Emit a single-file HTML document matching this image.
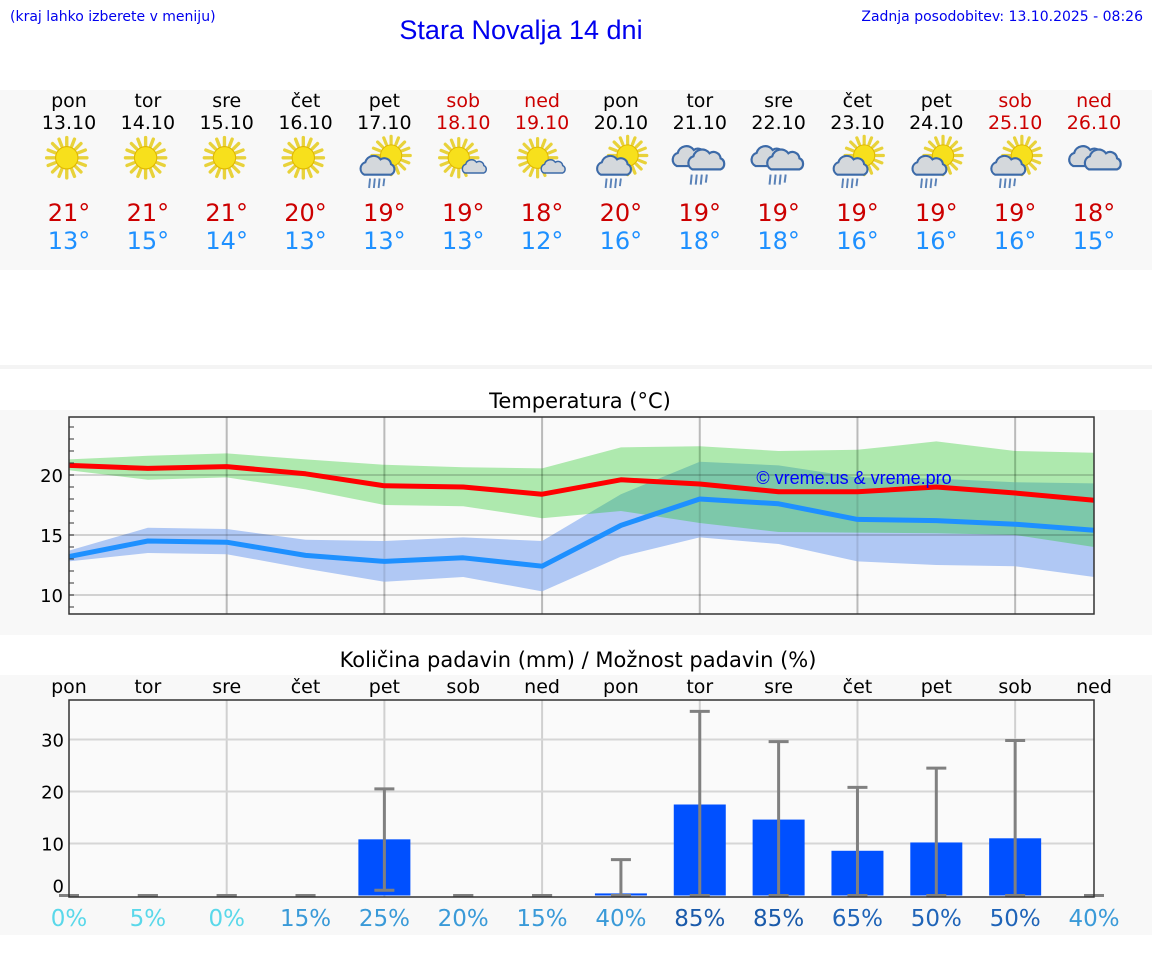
<!DOCTYPE html>
<html><head><meta charset="utf-8"><style>
body{margin:0;background:#fff;width:1152px;height:975px;overflow:hidden}
svg{display:block}
</style></head><body>
<svg id="s" width="1152" height="975" xmlns="http://www.w3.org/2000/svg">
<defs>
<g id="sun"><g stroke="#e8d23a" stroke-width="3" stroke-linecap="round">
<line x1="0" y1="-18" x2="0" y2="-11"/><line x1="0" y1="18" x2="0" y2="11"/><line x1="-18" y1="0" x2="-11" y2="0"/><line x1="18" y1="0" x2="11" y2="0"/>
<line x1="-12.7" y1="-12.7" x2="-8" y2="-8"/><line x1="12.7" y1="12.7" x2="8" y2="8"/><line x1="-12.7" y1="12.7" x2="-8" y2="8"/><line x1="12.7" y1="-12.7" x2="8" y2="-8"/>
<line x1="-6.9" y1="-16.6" x2="-4.5" y2="-10.5"/><line x1="6.9" y1="16.6" x2="4.5" y2="10.5"/><line x1="16.6" y1="-6.9" x2="10.5" y2="-4.5"/><line x1="-16.6" y1="6.9" x2="-10.5" y2="4.5"/>
<line x1="6.9" y1="-16.6" x2="4.5" y2="-10.5"/><line x1="-6.9" y1="16.6" x2="-4.5" y2="10.5"/><line x1="16.6" y1="6.9" x2="10.5" y2="4.5"/><line x1="-16.6" y1="-6.9" x2="-10.5" y2="-4.5"/></g>
<circle r="10" fill="#f7e01c" stroke="#e0b800" stroke-width="1"/></g>
<path id="cloud" d="M-14,6 a7,7 0 0 1 1,-13 a9,9 0 0 1 16,-3 a7,7 0 0 1 11,5 a6,6 0 0 1 0,11 z" fill="#d4d8dc" stroke="#3c6aa8" stroke-width="2.2"/>
<g id="rain" stroke="#5a82b8" stroke-width="2"><line x1="-8" y1="10" x2="-9" y2="20"/><line x1="-3" y1="10" x2="-4" y2="20"/><line x1="2" y1="10" x2="1" y2="20"/><line x1="7" y1="10" x2="6" y2="18"/></g>
</defs>
<rect x="0" y="90" width="1152" height="180" fill="#f8f8f8"/>
<rect x="0" y="365" width="1152" height="4" fill="#f4f4f4"/>
<rect x="0" y="410" width="1152" height="225" fill="#f8f8f8"/>
<rect x="0" y="675" width="1152" height="260" fill="#f8f8f8"/>
<text x="10" y="21" font-family="DejaVu Sans, sans-serif" font-size="14" fill="#0000ee">(kraj lahko izberete v meniju)</text>
<text x="521" y="39" text-anchor="middle" font-family="Liberation Sans, sans-serif" font-size="27" fill="#0000ee">Stara Novalja 14 dni</text>
<text x="1143" y="21" text-anchor="end" font-family="DejaVu Sans, sans-serif" font-size="14" fill="#0000ee">Zadnja posodobitev: 13.10.2025 - 08:26</text>
<text x="580" y="408" text-anchor="middle" font-family="DejaVu Sans, sans-serif" font-size="21" fill="#000">Temperatura (°C)</text>
<text x="578" y="667" text-anchor="middle" font-family="DejaVu Sans, sans-serif" font-size="21" fill="#000">Količina padavin (mm) / Možnost padavin (%)</text>
<g id="topg"></g><g id="temp"></g><g id="prec"></g>
</svg>
<script>
const days=["pon","tor","sre","čet","pet","sob","ned","pon","tor","sre","čet","pet","sob","ned"];
const dates=["13.10","14.10","15.10","16.10","17.10","18.10","19.10","20.10","21.10","22.10","23.10","24.10","25.10","26.10"];
const icons=["sun","sun","sun","sun","sunrain","suncloud","suncloud","sunrain","cloudrain","cloudrain","sunrain","sunrain","sunrain","cloud"];
const maxT=[21,21,21,20,19,19,18,20,19,19,19,19,19,18];
const minT=[13,15,14,13,13,13,12,16,18,18,16,16,16,15];
const tMax=[20.8,20.55,20.7,20.1,19.1,19.0,18.4,19.6,19.25,18.6,18.6,19.0,18.5,17.9];
const tMaxHi=[21.3,21.6,21.8,21.3,20.85,20.65,20.55,22.3,22.4,22.0,22.1,22.8,22.0,21.85];
const tMaxLo=[20.4,19.6,19.8,18.8,17.5,17.4,16.4,17.0,16.0,15.25,15.2,15.15,15.0,14.0];
const tMin=[13.2,14.5,14.4,13.3,12.8,13.1,12.4,15.8,18.0,17.6,16.3,16.2,15.9,15.4];
const tMinHi=[13.7,15.6,15.5,14.6,14.5,14.8,14.5,18.4,21.1,20.8,19.8,19.7,19.4,19.3];
const tMinLo=[12.8,13.5,13.4,12.2,11.1,11.5,10.3,13.2,14.8,14.25,12.8,12.5,12.4,11.5];
const tTicks=[10,15,20];
const rain=[0,0,0,0,10.8,0,0,0.4,17.5,14.6,8.6,10.2,11.0,0];
const rainHi=[0,0,0,0,20.5,0,0,6.9,35.4,29.6,20.8,24.5,29.8,0];
const rainLo=[0,0,0,0,1.0,0,0,0,0,0,0,0,0,0];
const rainProb=[0,5,0,15,25,20,15,40,85,85,65,50,50,40];
const rTicks=[0,10,20,30];
const NS="http://www.w3.org/2000/svg";
function mk(p,tag,a,txt){const e=document.createElementNS(NS,tag);for(const k in a)e.setAttribute(k,a[k]);if(txt!==undefined)e.textContent=txt;p.appendChild(e);return e;}
const X0=69,X1=1094;
const xd=i=>X0+i*(X1-X0)/13;
const weekendIdx=[5,6,12,13];
const topG=document.getElementById('topg');
days.forEach((d,i)=>{
 const x=xd(i),we=weekendIdx.includes(i)?"#cc0000":"#000";
 let t=mk(topG,'text',{x:x,y:107,'text-anchor':'middle','font-family':'DejaVu Sans, sans-serif','font-size':19,fill:we},d);
 
 
 t=mk(topG,'text',{x:x,y:129,'text-anchor':'middle','font-family':'DejaVu Sans, sans-serif','font-size':19,fill:we},dates[i]);
 
 
 const g=mk(topG,'g',{transform:`translate(${x},160) scale(1.12)`});
 
 
 const ic=icons[i];
 if(ic==="sun")mk(g,'use',{href:'#sun',transform:'translate(-2,-2)'});
 if(ic==="sunrain"){mk(g,'use',{href:'#sun',transform:'translate(6,-4) scale(0.95)'});mk(g,'use',{href:'#cloud',transform:'translate(-6,8) scale(0.85)'});mk(g,'use',{href:'#rain',transform:'translate(-6,8) scale(0.85)'});}
 if(ic==="suncloud"){mk(g,'use',{href:'#sun',transform:'translate(-4,-2) scale(0.95)'});mk(g,'use',{href:'#cloud',transform:'translate(10,8) scale(0.6)'});}
 if(ic==="cloudrain"){mk(g,'use',{href:'#cloud',transform:'translate(-8,0) scale(0.9)'});mk(g,'use',{href:'#cloud',transform:'translate(6,3) scale(0.9)'});mk(g,'use',{href:'#rain',transform:'translate(0,4) scale(0.9)'});}
 if(ic==="cloud"){mk(g,'use',{href:'#cloud',transform:'translate(-6,0) scale(0.9)'});mk(g,'use',{href:'#cloud',transform:'translate(8,3) scale(0.9)'});}
 t=mk(topG,'text',{x:x,y:221,'text-anchor':'middle','font-family':'DejaVu Sans, sans-serif','font-size':24,fill:'#cc0000'},maxT[i]+"°");
 
 
 t=mk(topG,'text',{x:x,y:249,'text-anchor':'middle','font-family':'DejaVu Sans, sans-serif','font-size':24,fill:'#1e90ff'},minT[i]+"°");
 
 
});
const tg=document.getElementById('temp');
const TY0=417,TY1=614;
const ty=v=>475-(v-20)*12;
mk(tg,'rect',{x:X0,y:TY0,width:X1-X0,height:TY1-TY0,fill:'#fafafa'});
[2,4,6,8,10,12].forEach(i=>mk(tg,'line',{x1:xd(i),x2:xd(i),y1:TY0,y2:TY1,stroke:'#d0d0d0','stroke-width':2}));
function band(hi,lo,fill,name){let p=hi.map((v,i)=>`${xd(i)},${ty(v)}`);for(let i=lo.length-1;i>=0;i--)p.push(`${xd(i)},${ty(lo[i])}`);const e=mk(tg,'polygon',{points:p.join(' '),fill:fill});
 
 }
band(tMinHi,tMinLo,'#b0c8f4','min-temp-band');
band(tMaxHi,tMaxLo,'rgba(20,200,20,0.33)','max-temp-band');
tTicks.forEach(v=>mk(tg,'line',{x1:X0,x2:X1,y1:ty(v),y2:ty(v),stroke:'rgba(0,0,0,0.16)','stroke-width':2}));
[2,4,6,8,10,12].forEach(i=>mk(tg,'line',{x1:xd(i),x2:xd(i),y1:TY0,y2:TY1,stroke:'rgba(0,0,0,0.1)','stroke-width':2}));
function line(a,c,name){const e=mk(tg,'polyline',{points:a.map((v,i)=>`${xd(i)},${ty(v)}`).join(' '),fill:'none',stroke:c,'stroke-width':5,'stroke-linejoin':'round'});
 
 }
line(tMax,'#ff0000','max-temp-line');line(tMin,'#1e90ff','min-temp-line');
for(let v=9;v<=24;v++)mk(tg,'line',{x1:X0,x2:X0+5,y1:ty(v),y2:ty(v),stroke:'#333','stroke-width':1});
tTicks.forEach(v=>{const e=mk(tg,'text',{x:63,y:ty(v)+7,'text-anchor':'end','font-family':'DejaVu Sans, sans-serif','font-size':18},v);
 
 });
let wm=mk(tg,'text',{x:854,y:484,'text-anchor':'middle','font-family':'Liberation Sans, sans-serif','font-size':18,fill:'#0000ff'},'© vreme.us & vreme.pro');


mk(tg,'rect',{x:X0,y:TY0,width:X1-X0,height:TY1-TY0,fill:'none',stroke:'#333','stroke-width':1.5});
const pg=document.getElementById('prec');
const PY0=700,PY1=897;
const py=v=>895.5-v*5.2;
mk(pg,'rect',{x:X0,y:PY0,width:X1-X0,height:PY1-PY0,fill:'#fafafa'});
[2,4,6,8,10,12].forEach(i=>mk(pg,'line',{x1:xd(i),x2:xd(i),y1:PY0,y2:PY1,stroke:'#d0d0d0','stroke-width':2}));
rTicks.filter(v=>v>0).forEach(v=>mk(pg,'line',{x1:X0,x2:X1,y1:py(v),y2:py(v),stroke:'#d6d6d6','stroke-width':2}));
rain.forEach((v,i)=>{const x=xd(i);
 if(v>0){const b=mk(pg,'rect',{x:x-26,y:py(v),width:52,height:py(0)-py(v),fill:'#0050ff'});
  
  }
 const g=mk(pg,'g',{stroke:'#808080','stroke-width':3});
 
 
 mk(g,'line',{x1:x,x2:x,y1:py(rainLo[i]),y2:py(rainHi[i])});
 mk(g,'line',{x1:x-10,x2:x+10,y1:py(rainHi[i]),y2:py(rainHi[i])});
 mk(g,'line',{x1:x-10,x2:x+10,y1:py(rainLo[i]),y2:py(rainLo[i])});
 let t=mk(pg,'text',{x:x,y:693,'text-anchor':'middle','font-family':'DejaVu Sans, sans-serif','font-size':19},days[i]);
 
 
 const p=rainProb[i],col=p<10?'#5ad8ea':p<50?'#3a9ad8':p<80?'#1f64b8':'#1a5aaa';
 t=mk(pg,'text',{x:x,y:926,'text-anchor':'middle','font-family':'DejaVu Sans, sans-serif','font-size':23,fill:col},p+'%');
 
 
});
rTicks.forEach(v=>{const e=mk(pg,'text',{x:64,y:(v===0?py(v)-3:py(v)+7),'text-anchor':'end','font-family':'DejaVu Sans, sans-serif','font-size':18},v);
 
 });
mk(pg,'rect',{x:X0,y:PY0,width:X1-X0,height:PY1-PY0,fill:'none',stroke:'#333','stroke-width':1.5});
</script>
</body></html>
